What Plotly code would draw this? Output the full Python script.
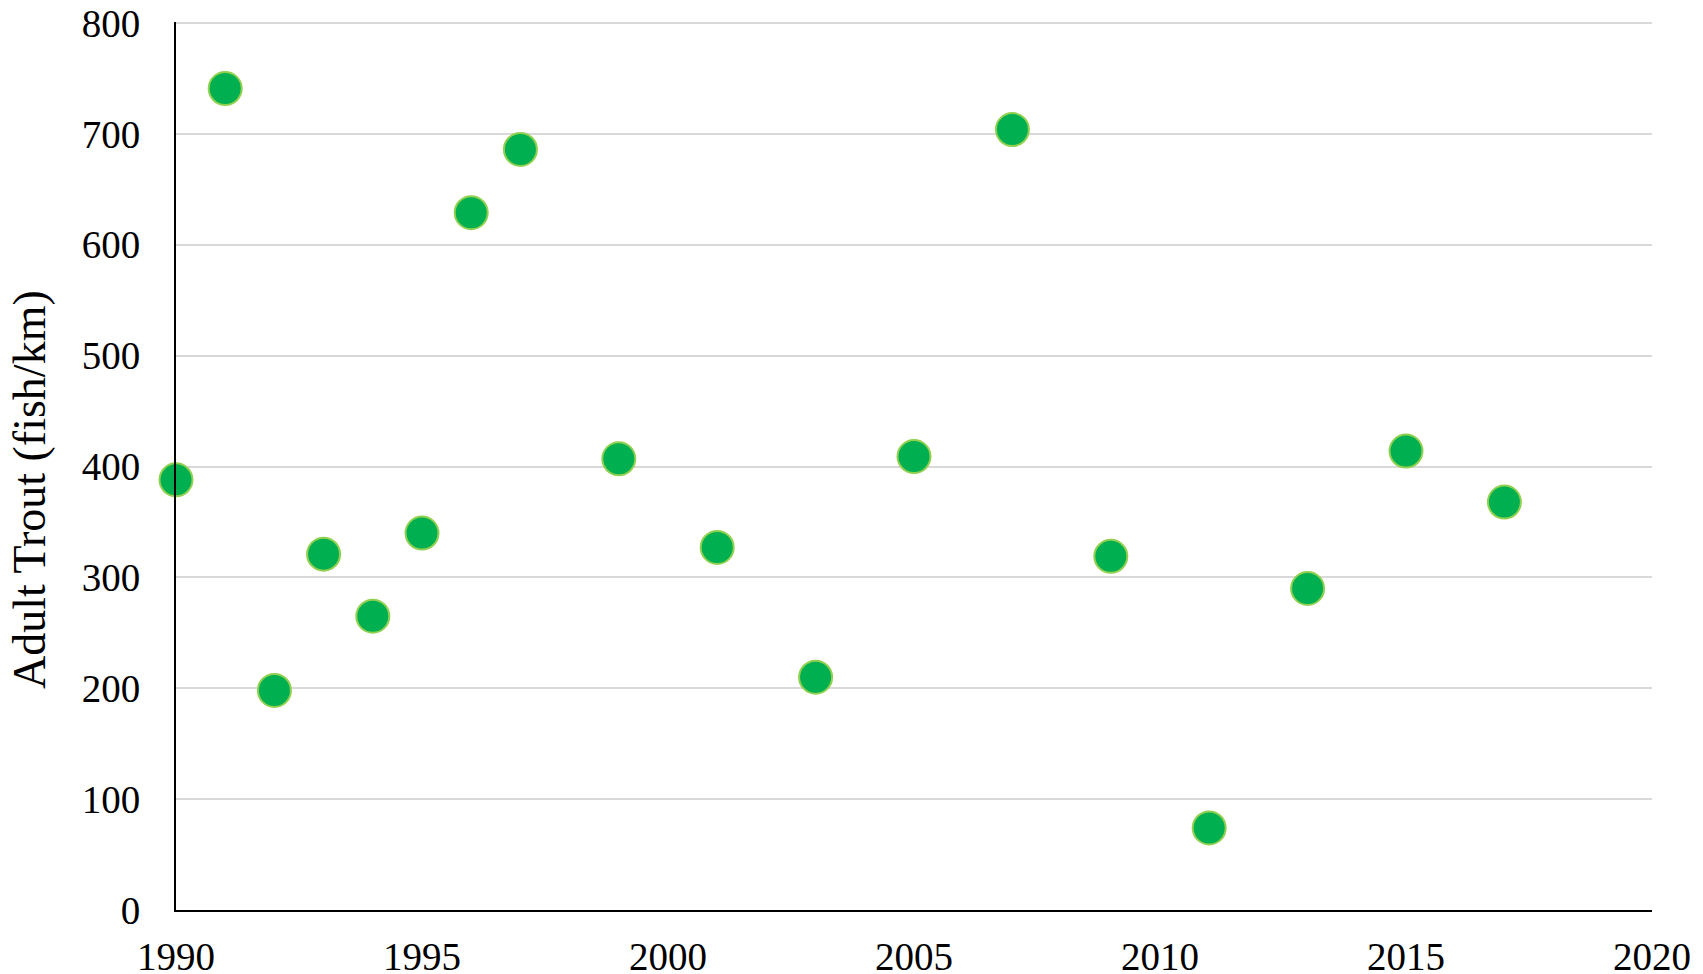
import plotly.graph_objects as go

years = [1990, 1991, 1992, 1993, 1994, 1995, 1996, 1997, 1999, 2001, 2003, 2005, 2007, 2009, 2011, 2013, 2015, 2017]
trout = [388, 741, 198, 321, 265, 340, 629, 686, 407, 327, 210, 409, 704, 319, 74, 290, 414, 368]

x_ticks = [1990, 1995, 2000, 2005, 2010, 2015, 2020]
y_ticks = [0, 100, 200, 300, 400, 500, 600, 700, 800]
y_title = "Adult Trout (fish/km)"

FONT = "Liberation Serif"

fig = go.Figure()
fig.add_trace(go.Scatter(
    x=years, y=trout, mode="markers",
    marker=dict(size=33, color="#00B050", line=dict(color="#92D050", width=2)),
    cliponaxis=False, showlegend=False,
))

fig.update_layout(
    width=1703, height=974,
    margin=dict(l=168, r=59, t=14, b=72),
    paper_bgcolor="white", plot_bgcolor="white",
    font=dict(family=FONT, size=39, color="black"),
)
fig.update_xaxes(
    range=[1990, 2020], tickvals=x_ticks, ticktext=[str(v) for v in x_ticks],
    showgrid=False, zeroline=False, automargin=False,
    showline=True, linecolor="black", linewidth=2,
    ticks="", ticklabelstandoff=11, ticklabeloverflow="allow",
    tickfont=dict(family=FONT, size=39),
)
fig.update_yaxes(
    range=[0, 801], tickvals=y_ticks, ticktext=[str(v) for v in y_ticks],
    showgrid=True, gridcolor="#D9D9D9", gridwidth=2,
    zeroline=False, automargin=False,
    showline=True, linecolor="black", linewidth=2,
    ticks="", ticklabelstandoff=26, ticklabeloverflow="allow",
    tickfont=dict(family=FONT, size=39),
)
fig.add_annotation(
    text=y_title, textangle=-90, showarrow=False,
    xref="paper", yref="paper", x=0, y=0.473,
    xanchor="center", yanchor="middle", xshift=-146,
    font=dict(family=FONT, size=46, color="black"),
)

fig.write_html("out.html")
